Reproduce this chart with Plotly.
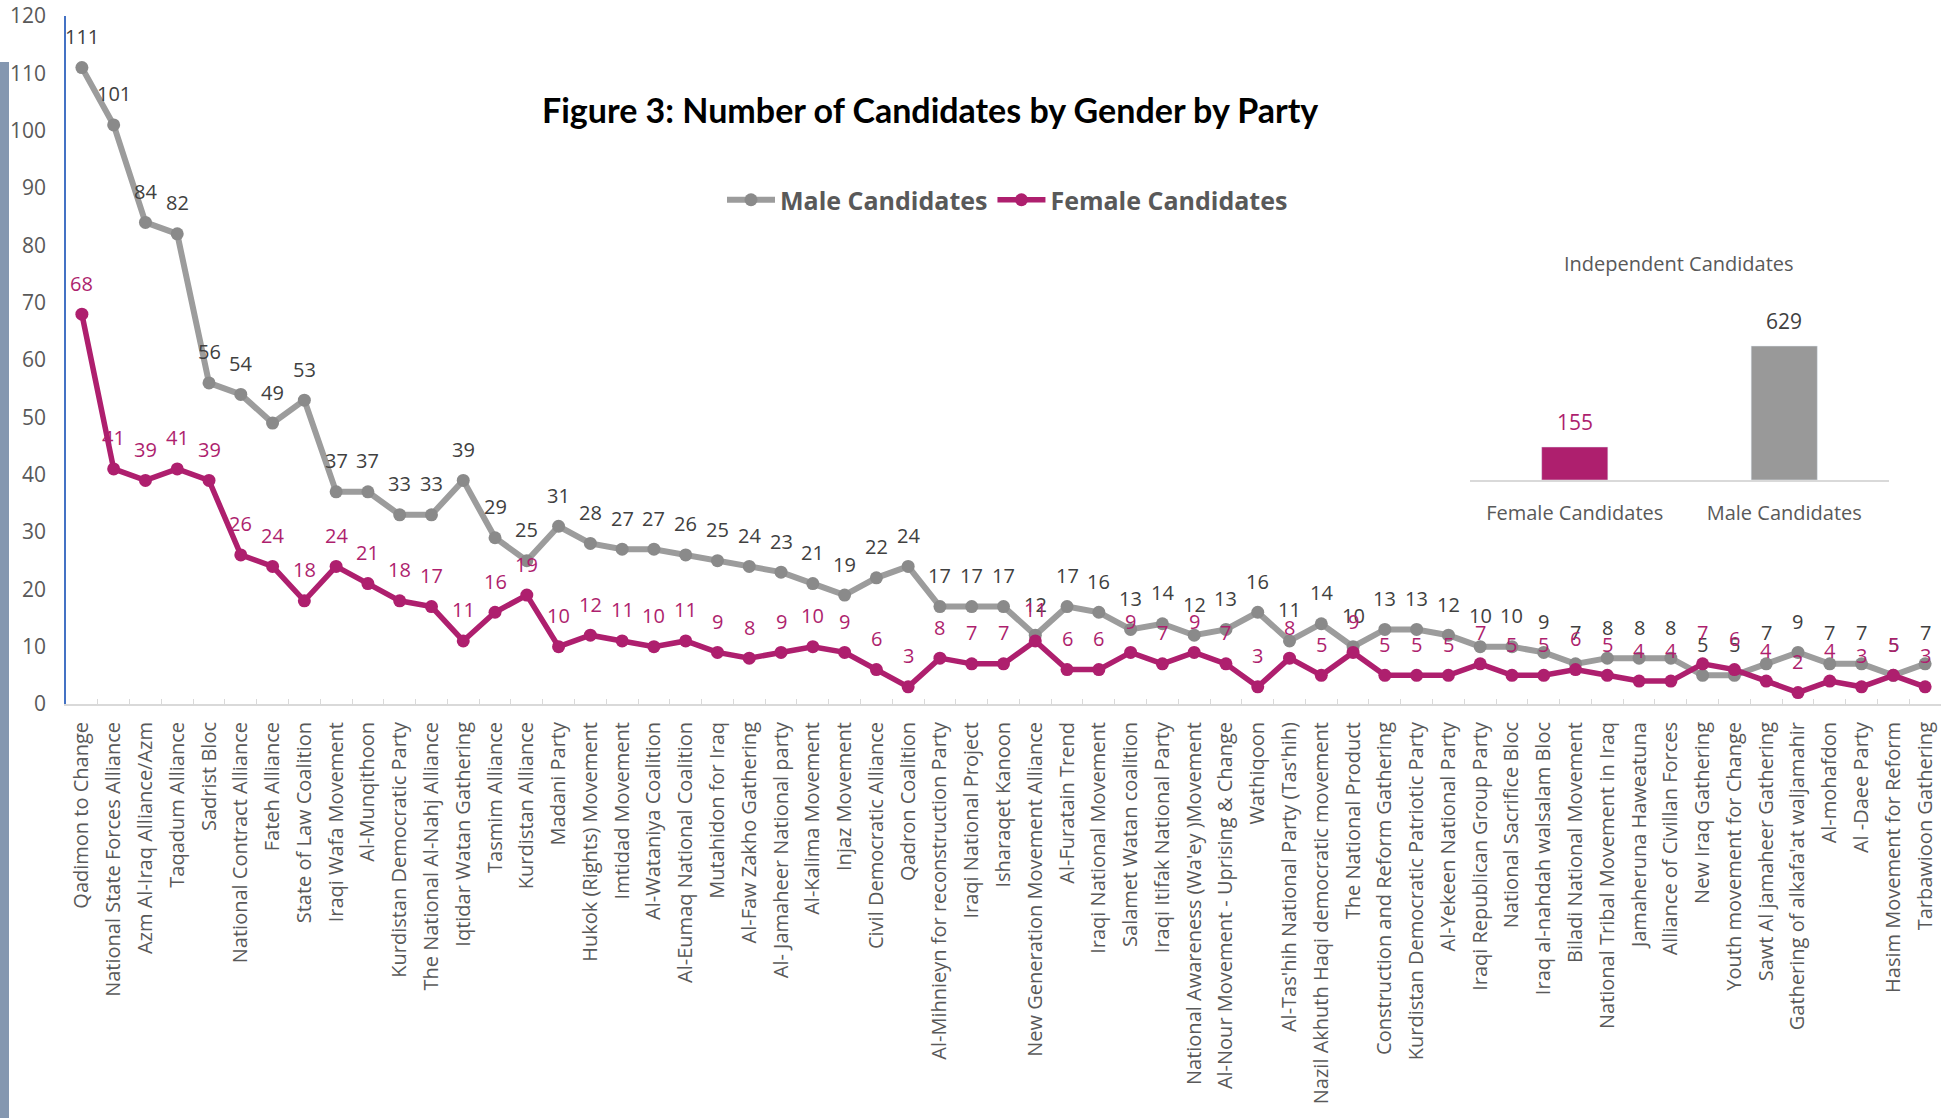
import plotly.graph_objects as go

parties = ["Qadimon to Change", "National State Forces Alliance", "Azm Al-Iraq Alliance/Azm", "Taqadum Alliance",
           "Sadrist Bloc", "National Contract Alliance", "Fateh Alliance", "State of Law Coalition",
           "Iraqi Wafa Movement", "Al-Munqithoon", "Kurdistan Democratic Party", "The National Al-Nahj Alliance",
           "Iqtidar Watan Gathering", "Tasmim Alliance", "Kurdistan Alliance", "Madani Party",
           "Hukok (Rights) Movement", "Imtidad Movement", "Al-Wataniya Coalition", "Al-Eumaq National Coalition",
           "Mutahidon for Iraq", "Al-Faw Zakho Gathering", "Al- Jamaheer National party", "Al-Kalima Movement",
           "Injaz Movement", "Civil Democratic Alliance", "Qadron Coalition", "Al-Mihnieyn for reconstruction Party",
           "Iraqi National Project", "Isharaqet Kanoon", "New Generation Movement Alliance", "Al-Furatain Trend",
           "Iraqi National Movement", "Salamet Watan coalition", "Iraqi Itifak National Party",
           "National Awareness (Wa'ey )Movement", "Al-Nour Movement - Uprising & Change", "Wathiqoon",
           "Al-Tas'hih National Party (Tas'hih)", "Nazil Akhuth Haqi democratic movement", "The National Product",
           "Construction and Reform Gathering", "Kurdistan Democratic Patriotic Party", "Al-Yekeen National Party",
           "Iraqi Republican Group Party", "National Sacrifice Bloc", "Iraq al-nahdah walsalam Bloc",
           "Biladi National Movement", "National Tribal Movement in Iraq", "Jamaheruna Haweatuna",
           "Alliance of Civillan Forces", "New Iraq Gathering", "Youth movement for Change",
           "Sawt Al jamaheer Gathering", "Gathering of alkafa'at waljamahir", "Al-mohafdon", "Al -Daee Party",
           "Hasim Movement for Reform", "Tarbawioon Gathering"]

male = [111, 101, 84, 82, 56, 54, 49, 53, 37, 37, 33, 33, 39, 29, 25, 31, 28, 27, 27, 26, 25, 24, 23, 21, 19,
        22, 24, 17, 17, 17, 12, 17, 16, 13, 14, 12, 13, 16, 11, 14, 10, 13, 13, 12, 10, 10, 9, 7, 8, 8, 8,
        5, 5, 7, 9, 7, 7, 5, 7]
female = [68, 41, 39, 41, 39, 26, 24, 18, 24, 21, 18, 17, 11, 16, 19, 10, 12, 11, 10, 11, 9, 8, 9, 10, 9,
          6, 3, 8, 7, 7, 11, 6, 6, 9, 7, 9, 7, 3, 8, 5, 9, 5, 5, 5, 7, 5, 5, 6, 5, 4, 4,
          7, 6, 4, 2, 4, 3, 5, 3]

ind_cats = ["Female Candidates", "Male Candidates"]
ind_vals = [155, 629]

y_ticks = list(range(0, 121, 10))

GRAY_LINE = "#9c9c9c"
GRAY_MARK = "#8a8a8a"
MAG = "#AE1F6E"
TXT = "#595959"
DARK = "#404040"

W, H = 1944, 1118
L, R, T, B = 66, 3, 16, 414
pw, ph = W - L - R, H - T - B


def px_x(px):
    return (px - L) / pw


def px_y(py):
    return (H - B - py) / ph


fig = go.Figure()
fig.add_trace(go.Scatter(x=parties, y=male, mode="lines+markers", name="Male Candidates",
                         line=dict(color=GRAY_LINE, width=6),
                         marker=dict(color=GRAY_MARK, size=13), xaxis="x", yaxis="y"))
fig.add_trace(go.Scatter(x=parties, y=female, mode="lines+markers", name="Female Candidates",
                         line=dict(color=MAG, width=5.5),
                         marker=dict(color=MAG, size=13), xaxis="x", yaxis="y"))
fig.add_trace(go.Bar(x=ind_cats, y=ind_vals, marker=dict(color=[MAG, "#999999"]), width=0.316,
                     showlegend=False, xaxis="x2", yaxis="y2"))

annotations = []
for p, v in zip(parties, male):
    annotations.append(dict(x=p, y=v, xref="x", yref="y", text=str(v), showarrow=False, yshift=31,
                            font=dict(family="Open Sans", size=20, color=DARK)))
for p, v in zip(parties, female):
    annotations.append(dict(x=p, y=v, xref="x", yref="y", text=str(v), showarrow=False, yshift=31,
                            font=dict(family="Open Sans", size=20, color=MAG)))
for c, v, col in zip(ind_cats, ind_vals, [MAG, DARK]):
    annotations.append(dict(x=c, y=v, xref="x2", yref="y2", text=str(v), showarrow=False, yshift=25,
                            font=dict(family="Open Sans", size=21, color=col)))
annotations.append(dict(x=px_x(930), y=px_y(109), xref="paper", yref="paper", xanchor="center",
                        yanchor="middle", showarrow=False,
                        text="<b>Figure 3: Number of Candidates by Gender by Party</b>",
                        font=dict(family="Lato", size=34, color="#000000")))
annotations.append(dict(x=px_x(1679), y=px_y(263), xref="paper", yref="paper", xanchor="center",
                        yanchor="middle", showarrow=False, text="Independent Candidates",
                        font=dict(family="Open Sans", size=20, color=TXT)))

shapes = [dict(type="rect", xref="paper", yref="paper", x0=px_x(0), x1=px_x(9), y0=px_y(1118), y1=px_y(62),
               fillcolor="#8497B0", line=dict(width=0), layer="above")]

fig.update_layout(
    width=W, height=H,
    margin=dict(l=L, r=R, t=T, b=B, autoexpand=False),
    paper_bgcolor="white", plot_bgcolor="white",
    font=dict(family="Open Sans", color=TXT),
    showlegend=True,
    legend=dict(orientation="h", x=px_x(722), y=px_y(200), xanchor="left", yanchor="middle",
                font=dict(family="Open Sans", size=25, color=TXT, weight="bold"), bgcolor="rgba(0,0,0,0)",
                itemwidth=48, traceorder="normal"),
    xaxis=dict(domain=[0, 1], type="category", range=[-0.5, len(parties) - 0.5], tickangle=-90,
               showline=True, linecolor="#d9d9d9",
               linewidth=2, ticks="inside", ticklen=5, tickcolor="#d9d9d9", tickson="boundaries",
               showgrid=False, zeroline=False, automargin=False, ticklabelstandoff=8,
               tickfont=dict(family="Open Sans", size=20, color=TXT)),
    yaxis=dict(domain=[0, 1], range=[0, 120], tickvals=y_ticks, showline=True, linecolor="#4472C4",
               linewidth=1.5, showgrid=False, zeroline=False, ticks="", automargin=False,
               ticklabelstandoff=14, tickfont=dict(family="Open Sans", size=21, color=TXT)),
    xaxis2=dict(domain=[px_x(1470), px_x(1889)], anchor="y2", type="category", showline=True,
                linecolor="#d9d9d9", linewidth=2, ticks="", showgrid=False, zeroline=False,
                ticklabelstandoff=14, tickfont=dict(family="Open Sans", size=20, color=TXT)),
    yaxis2=dict(domain=[px_y(480), px_y(300)], anchor="x2", range=[0, 845], visible=False,
                showgrid=False, zeroline=False),
    annotations=annotations,
    shapes=shapes,
)

fig.write_html("out.html")
